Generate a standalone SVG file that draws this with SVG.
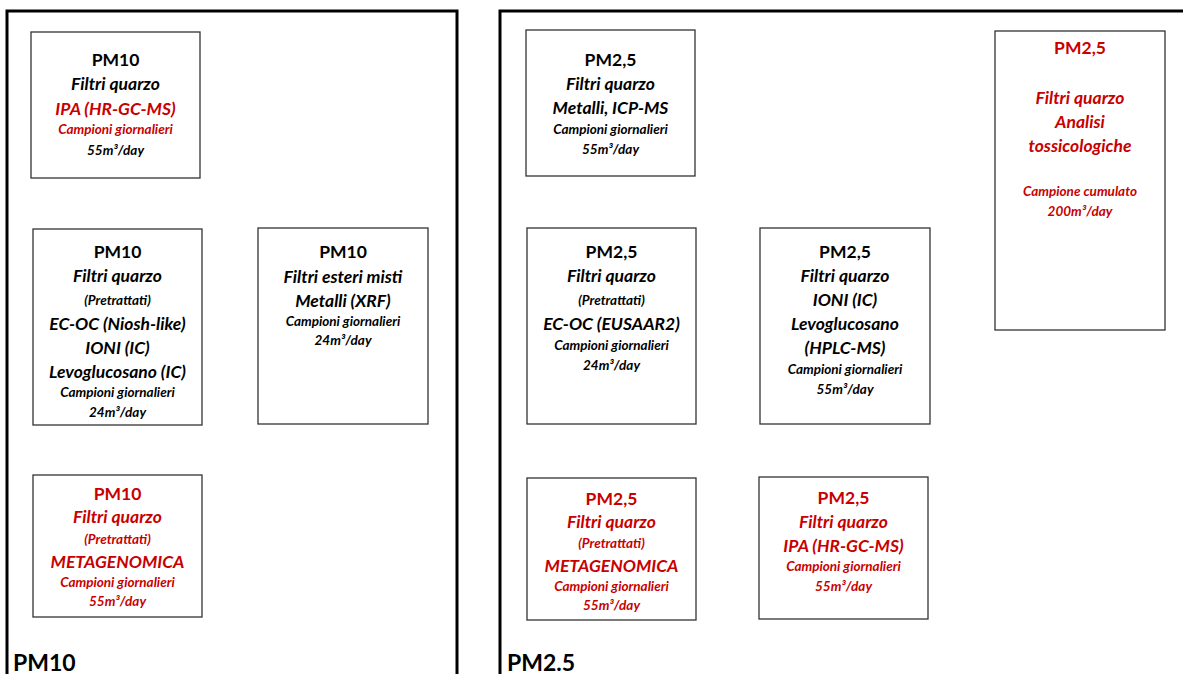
<svg xmlns="http://www.w3.org/2000/svg" width="1183" height="674" viewBox="0 0 1183 674">
<style>
.frame{fill:none;stroke:#000;stroke-width:3}
.box{fill:#fff;stroke:#333;stroke-width:1.3}
text{font-family:Lato,"Liberation Sans",sans-serif;text-anchor:middle;font-weight:bold}
.h{font-size:17.5px}
.i{font-size:17.5px;font-style:italic}
.s{font-size:13.5px;font-style:italic}
.r{fill:#c80000}
.k{fill:#000}
.lbl{font-size:23px;text-anchor:start}
</style>
<g id="frames">
<path class="frame" d="M7,676 V11 H457 V676"/>
<path class="frame" d="M500,676 V11 H1190"/>
<text class="lbl" x="13" y="671">PM10</text>
<text class="lbl" x="507" y="671">PM2.5</text>
</g>
<g id="connectors"></g>
<g id="pm10-ipa">
<rect class="box" x="31" y="32" width="169" height="146"/>
<text class="h k" x="115.5" y="66">PM10</text>
<text class="i k" x="115.5" y="90">Filtri quarzo</text>
<text class="i r" x="115.5" y="115">IPA (HR-GC-MS)</text>
<text class="s r" x="115.5" y="134">Campioni giornalieri</text>
<text class="s k" x="115.5" y="155">55m³/day</text>
</g>
<g id="pm10-ecoc">
<rect class="box" x="33" y="229" width="169" height="196"/>
<text class="h k" x="117.5" y="258">PM10</text>
<text class="i k" x="117.5" y="282">Filtri quarzo</text>
<text class="s k" x="117.5" y="305">(Pretrattati)</text>
<text class="i k" x="117.5" y="330">EC-OC (Niosh-like)</text>
<text class="i k" x="117.5" y="354">IONI (IC)</text>
<text class="i k" x="117.5" y="378">Levoglucosano (IC)</text>
<text class="s k" x="117.5" y="397">Campioni giornalieri</text>
<text class="s k" x="117.5" y="417">24m³/day</text>
</g>
<g id="pm10-xrf">
<rect class="box" x="258" y="228" width="170" height="196"/>
<text class="h k" x="343" y="258">PM10</text>
<text class="i k" x="343" y="283">Filtri esteri misti</text>
<text class="i k" x="343" y="307">Metalli (XRF)</text>
<text class="s k" x="343" y="326">Campioni giornalieri</text>
<text class="s k" x="343" y="345">24m³/day</text>
</g>
<g id="pm10-meta">
<rect class="box" x="33" y="475" width="169" height="142"/>
<text class="h r" x="117.5" y="500">PM10</text>
<text class="i r" x="117.5" y="523">Filtri quarzo</text>
<text class="s r" x="117.5" y="544">(Pretrattati)</text>
<text class="i r" x="117.5" y="568">METAGENOMICA</text>
<text class="s r" x="117.5" y="587">Campioni giornalieri</text>
<text class="s r" x="117.5" y="606">55m³/day</text>
</g>
<g id="pm25-icp">
<rect class="box" x="526" y="30" width="169" height="146"/>
<text class="h k" x="610.5" y="66">PM2,5</text>
<text class="i k" x="610.5" y="90">Filtri quarzo</text>
<text class="i k" x="610.5" y="114">Metalli, ICP-MS</text>
<text class="s k" x="610.5" y="134">Campioni giornalieri</text>
<text class="s k" x="610.5" y="154">55m³/day</text>
</g>
<g id="pm25-ecoc">
<rect class="box" x="527" y="228" width="169" height="196"/>
<text class="h k" x="611.5" y="258">PM2,5</text>
<text class="i k" x="611.5" y="282">Filtri quarzo</text>
<text class="s k" x="611.5" y="305">(Pretrattati)</text>
<text class="i k" x="611.5" y="330">EC-OC (EUSAAR2)</text>
<text class="s k" x="611.5" y="350">Campioni giornalieri</text>
<text class="s k" x="611.5" y="370">24m³/day</text>
</g>
<g id="pm25-ioni">
<rect class="box" x="760" y="228" width="170" height="196"/>
<text class="h k" x="845" y="258">PM2,5</text>
<text class="i k" x="845" y="282">Filtri quarzo</text>
<text class="i k" x="845" y="306">IONI (IC)</text>
<text class="i k" x="845" y="330">Levoglucosano</text>
<text class="i k" x="845" y="354">(HPLC-MS)</text>
<text class="s k" x="845" y="374">Campioni giornalieri</text>
<text class="s k" x="845" y="394">55m³/day</text>
</g>
<g id="pm25-tox">
<rect class="box" x="995" y="31" width="170" height="299"/>
<text class="h r" x="1080" y="54">PM2,5</text>
<text class="i r" x="1080" y="104">Filtri quarzo</text>
<text class="i r" x="1080" y="128">Analisi</text>
<text class="i r" x="1080" y="152">tossicologiche</text>
<text class="s r" x="1080" y="196">Campione cumulato</text>
<text class="s r" x="1080" y="216">200m³/day</text>
</g>
<g id="pm25-meta">
<rect class="box" x="527" y="478" width="169" height="142"/>
<text class="h r" x="611.5" y="505">PM2,5</text>
<text class="i r" x="611.5" y="528">Filtri quarzo</text>
<text class="s r" x="611.5" y="548">(Pretrattati)</text>
<text class="i r" x="611.5" y="572">METAGENOMICA</text>
<text class="s r" x="611.5" y="591">Campioni giornalieri</text>
<text class="s r" x="611.5" y="610">55m³/day</text>
</g>
<g id="pm25-ipa">
<rect class="box" x="759" y="477" width="169" height="142"/>
<text class="h r" x="843.5" y="504">PM2,5</text>
<text class="i r" x="843.5" y="528">Filtri quarzo</text>
<text class="i r" x="843.5" y="552">IPA (HR-GC-MS)</text>
<text class="s r" x="843.5" y="571">Campioni giornalieri</text>
<text class="s r" x="843.5" y="591">55m³/day</text>
</g>
</svg>
